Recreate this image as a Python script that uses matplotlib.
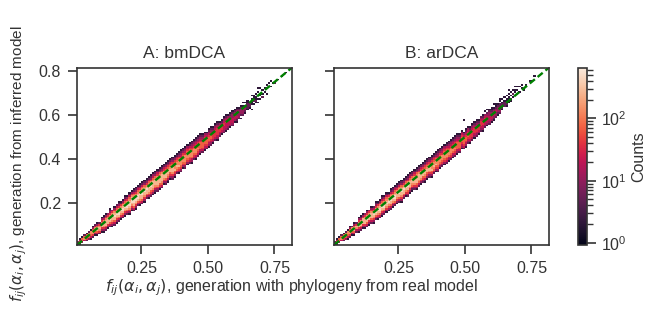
import numpy as np
import matplotlib
matplotlib.use("Agg")
import matplotlib.pyplot as plt
import seaborn as sns
from matplotlib.colors import LogNorm

plt.rcParams['font.family'] = ['Liberation Sans', 'DejaVu Sans']
plt.rcParams['mathtext.fontset'] = 'dejavusans'
DARK = '#333333'

XTICKS = [0.25, 0.50, 0.75]
YTICKS = [0.2, 0.4, 0.6, 0.8]
TITLES = ["A: bmDCA", "B: arDCA"]
XLABEL = r"$f_{ij}(\alpha_i, \alpha_j)$, generation with phylogeny from real model"
YLABEL = r"$f_{ij}(\alpha_i, \alpha_j)$, generation from inferred model"
CBAR_LABEL = "Counts"

# Histogram, one entry per x bin:
# (first y bin relative to the diagonal, colour level of each y bin, blank = empty)
A_COLUMNS = [
 (0,"53"),(-1,"2641"),(-1,"3661"),(-1,"4762"),(-2,"25761"),(-2,"36772"),(-3,"146771"),
 (-3,"2577631"),(-3,"1368742"),(-4,"14688631"),(-4,"2578752"),(-4,"135887531"),
 (-5,"1357887421"),(-5,"2468887531"),(-5,"135888753"),(-5,"24689875321"),(-6,"1357898753"),
 (-6,"24688987531"),(-6,"13578987642"),(-6,"246899875321"),(-6,"13578987521"),
 (-6,"24689987531"),(-6,"135789876421"),(-6,"24689987531"),(-7,"1357899876421"),
 (-6,"135789987531"),(-7,"2468899876421"),(-7,"1357899875321"),(-6,"246899876431"),
 (-7,"1357889875321"),(-7,"2468899876421"),(-7,"1357889876321"),(-6,"246889875321"),
 (-7,"1357889876421"),(-7,"2356889875321"),(-7,"1357888876431"),(-7,"1246788876321"),
 (-7,"2357888875421"),(-7,"1356888876321"),(-7,"2467888875321"),(-6,"135788875421"),
 (-7,"2356888765321"),(-7,"1246788765321"),(-6,"135688765421"),(-7,"2357888765321"),
 (-7,"1356877765321"),(-6,"246787765421"),(-7,"1356877765321"),(-7,"2356777754321"),
 (-6,"135677765321"),(-7,"2356777754321"),(-6,"135677765431"),(-6,"245677765421"),
 (-7,"1346777654321"),(-6,"245677654321"),(-7,"1346776654321"),(-6,"245676654321"),
 (-6,"134666654321"),(-6,"24566654321"),(-6,"13456665431"),(-6,"2456665431"),
 (-6,"13456654321"),(-6,"23456654321"),(-6,"1345554321"),(-5,"2455554321"),
 (-6,"13455554321"),(-5,"234555431"),(-5,"134555321"),(-5,"2344554321"),
 (-5,"1344454321"),(-5,"234444431"),(-5,"134444321"),(-5,"234443321"),(-4,"13443321"),
 (-5,"123433321"),(-4,"2333321"),(-5,"1 233321"),(-4,"233321 1"),(-4,"12332 1"),
 (-3,"122211"),(-3,"1221"),(-5,"1  1121 1"),(-3,"1 2111"),(-3,"1211 1"),(-4,"1 1 2 1 1"),
 (-3,"1 11  1"),(-3,"2 1 1"),(-1,"1 1"),(-3,"1  1 1"),(0,"1 1"),(-1,"1  1"),(0,"1"),
 (-1,"2"),(0,"1"),(1,""),(0,"1"),(0,""),(0,"1"),(0,""),(0,""),
]
B_COLUMNS = [
 (0,"52"),(-1,"2641"),(-1,"3661"),(-1,"4762"),(-2,"25761"),(-2,"36772"),(-3,"146771"),
 (-3,"2577631"),(-3,"136872"),(-4,"14688631"),(-3,"247852"),(-4,"135887531"),
 (-4,"246887421"),(-4,"135888531"),(-5,"135888753"),(-5,"2468987531"),(-5,"135898753"),
 (-5,"2468887531"),(-6,"1357898642"),(-5,"24689875321"),(-6,"13578987521"),
 (-6,"24689987531"),(-6,"135789876421"),(-6,"24689987531"),(-6,"135789876421"),
 (-6,"13578987531"),(-6,"246889876421"),(-6,"135789875321"),(-6,"246899876431"),
 (-6,"135788875321"),(-6,"246889876421"),(-7,"1357889876321"),(-6,"246889875321"),
 (-6,"135789876421"),(-7,"2356889875321"),(-6,"135788876431"),(-6,"124678876321"),
 (-6,"235788875421"),(-7,"1356888876321"),(-6,"246788875321"),(-6,"135788875421"),
 (-6,"235688765321"),(-7,"1246788765321"),(-6,"135688765421"),(-6,"235788765321"),
 (-7,"1356877765321"),(-6,"246787765421"),(-6,"135687765321"),(-7,"2356777754321"),
 (-6,"135677765321"),(-6,"235677754321"),(-6,"135677765431"),(-6,"245677765421"),
 (-6,"134677654321"),(-6,"245677654321"),(-6,"134676654321"),(-6,"245676654321"),
 (-6,"134666654321"),(-6,"24566654321"),(-5,"13456665431"),(-6,"2456665431      1"),
 (-6,"13456654321"),(-5,"2345665431"),(-6,"1345554321"),(-5,"2455554321"),
 (-5,"1345554321"),(-5,"2345554321"),(-5,"134555321"),(-4,"234555432"),
 (-5,"1344554321"),(-4,"23444543 1"),(-4,"13444432 1"),(-4,"234443321"),(-4,"134433211"),
 (-4,"12343321 1"),(-3,"23343211"),(-3,"1233321"),(-3,"233322 11"),(-2,"12321 1"),
 (-1,"2221 1"),(-2,"12211 1"),(-1,"1211 1 1"),(-1,"12 1 1"),(0,"1 2 1"),(0,"1 11 1"),
 (0,"2 1 1"),(0,"1  1"),(1,"1 1"),(-1,"1"),(1,"1"),(0,""),(1,"1"),(0,"1"),(2,"1"),
 (0,""),(0,""),(0,""),(0,""),(0,""),(0,""),(0,""),
]
LEVEL_TO_COUNT = [1, 2, 5, 11, 20, 38, 70, 130, 250, 450]

xlim = (0.0075, 0.814)
ylim = (0.0075, 0.814)
NBINS = 100
edges = np.linspace(xlim[0], xlim[1], NBINS + 1)

def grid(columns):
    z = np.full((NBINS, NBINS), np.nan)
    for col, (off, levels) in enumerate(columns[:NBINS]):
        for k, ch in enumerate(levels):
            row = col + off + k
            if ch != ' ' and 0 <= row < NBINS:
                z[row, col] = LEVEL_TO_COUNT[int(ch)]
    return z

W, H = 664, 315
fig = plt.figure(figsize=(W / 100, H / 100), dpi=100)
def box(x0, x1, y0, y1):
    return [x0 / W, 1 - y1 / H, (x1 - x0) / W, (y1 - y0) / H]

norm = LogNorm(vmin=0.93, vmax=640)
cmap = sns.color_palette("rocket", as_cmap=True)
axes = [fig.add_axes(box(77, 291.5, 68, 245)), fig.add_axes(box(334, 548.5, 68, 245))]
for ax, cols, title in zip(axes, [A_COLUMNS, B_COLUMNS], TITLES):
    mesh = ax.pcolormesh(edges, edges, grid(cols), cmap=cmap, norm=norm, rasterized=True)
    ax.plot(xlim, ylim, color='green', lw=1.7, ls=(0, (2.8, 1.5)))
    ax.set_xlim(xlim); ax.set_ylim(ylim)
    ax.set_xticks(XTICKS); ax.set_xticklabels([f"{t:.2f}" for t in XTICKS])
    ax.set_yticks(YTICKS)
    ax.set_title(title, fontsize=12.5, color=DARK, pad=7)
    ax.tick_params(length=6.5, width=1.2, labelsize=11.5, color=DARK, labelcolor=DARK, pad=5)
    for s in ax.spines.values():
        s.set_linewidth(1.2); s.set_color(DARK)
axes[0].set_yticklabels([f"{t:.1f}" for t in YTICKS])
axes[1].set_yticklabels([])

cax = fig.add_axes(box(578, 587, 68, 245))
cb = fig.colorbar(mesh, cax=cax)
cb.set_label(CBAR_LABEL, fontsize=11.5, color=DARK, labelpad=3)
cax.tick_params(which='major', length=6.5, width=1.2, labelsize=11.5, color=DARK, labelcolor=DARK)
cax.tick_params(which='minor', length=4, width=1.0, color=DARK)
cb.outline.set_linewidth(1.2); cb.outline.set_edgecolor(DARK)

fig.text(291 / W, 1 - 288 / H, XLABEL, ha='center', va='center', fontsize=11.5, color=DARK)
fig.text(19 / W, 1 - 163.5 / H, YLABEL, ha='center', va='center', rotation=90, fontsize=11, color=DARK)
fig.savefig("out.png", dpi=100)
